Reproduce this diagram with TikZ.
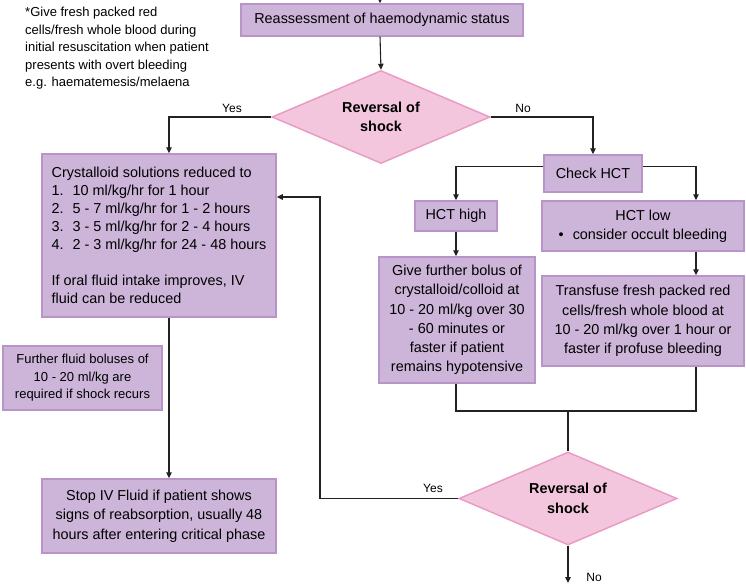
\documentclass[tikz,border=0pt]{standalone}
\usepackage{fontspec}
\setmainfont{Liberation Sans}
\usetikzlibrary{shapes.geometric,arrows.meta,calc}
\definecolor{boxfill}{HTML}{CDB5D9}
\definecolor{boxline}{HTML}{B994C9}
\definecolor{dfill}{HTML}{F4C6DD}
\definecolor{dline}{HTML}{E99CC4}
\definecolor{ln}{HTML}{222222}
\tikzset{
  box/.style={draw=boxline, fill=boxfill, line width=1.5pt, inner sep=0pt,
    font=\fontsize{14.4}{19.3}\selectfont, align=center},
  dec/.style={diamond, draw=dline, fill=dfill, line width=1.5pt, inner sep=0pt,
    aspect=2.34, minimum width=218pt, minimum height=93pt,
    font=\fontsize{14.4}{19.5}\selectfont\bfseries, align=center},
  conn/.style={draw=ln, line width=1.1pt},
  arr/.style={conn, -{Triangle[length=6pt,width=5.5pt]}},
  lab/.style={font=\fontsize{12}{14}\selectfont, inner sep=0pt},
  note/.style={font=\fontsize{13}{17.5}\selectfont, inner sep=0pt, align=left},
}
\begin{document}
\begin{tikzpicture}[x=1pt,y=-1pt]
\useasboundingbox (0,0) rectangle (746,583);

% note
\node[note, anchor=north west] (note) at (25,7) {*Give fresh packed red\\cells/fresh whole blood during\\initial resuscitation when patient\\presents with overt bleeding\\e.g. haematemesis/melaena};

% nodes
\node[box, minimum width=282pt, minimum height=32pt] (top) at (382,20) {Reassessment of haemodynamic status};
\node[dec] (d1) at (381,117) {Reversal of\\shock};
\node[box, minimum width=234pt, minimum height=163pt, align=left, font=\fontsize{14.4}{18}\selectfont] (left) at (159,235.5) {Crystalloid solutions reduced to\\
\makebox[21pt][l]{1.}10 ml/kg/hr for 1 hour\\
\makebox[21pt][l]{2.}5 - 7 ml/kg/hr for 1 - 2 hours\\
\makebox[21pt][l]{3.}3 - 5 ml/kg/hr for 2 - 4 hours\\
\makebox[21pt][l]{4.}2 - 3 ml/kg/hr for 24 - 48 hours\\[18pt]
If oral fluid intake improves, IV\\fluid can be reduced};
\node[box, minimum width=159pt, minimum height=64pt, font=\fontsize{13}{17.5}\selectfont] (further) at (82.5,378) {Further fluid boluses of\\10 - 20 ml/kg are\\required if shock recurs};
\node[box, minimum width=234pt, minimum height=74pt] (stop) at (159,516) {Stop IV Fluid if patient shows\\signs of reabsorption, usually 48\\hours after entering critical phase};
\node[box, minimum width=98pt, minimum height=37pt] (check) at (593,173.5) {Check HCT};
\node[box, minimum width=82pt, minimum height=30pt] (high) at (456,216) {HCT high};
\node[box, minimum width=202pt, minimum height=50pt] (low) at (643,226) {HCT low\\\textbullet\hspace{9pt}consider occult bleeding};
\node[box, minimum width=156pt, minimum height=126pt] (give) at (457,320) {Give further bolus of\\crystalloid/colloid at\\10 - 20 ml/kg over 30\\- 60 minutes or\\faster if patient\\remains hypotensive};
\node[box, minimum width=202pt, minimum height=90pt] (transfuse) at (643,321) {Transfuse fresh packed red\\cells/fresh whole blood at\\10 - 20 ml/kg over 1 hour or\\faster if profuse bleeding};
\node[dec] (d2) at (568,498.5) {Reversal of\\shock};

% helper coordinates
\coordinate (in) at (380,0);
\coordinate (cl) at (169,0);
\coordinate (cr) at (696,0);
\coordinate (m) at (568,411);
\coordinate (lp) at (320,197);
\coordinate (out) at (568,583);

% connectors
\draw[arr] (in) -- (in |- top.north);
\draw[arr] (top.south -| in) -- (d1.north);
\draw[arr] (d1.west) -| (left.north -| cl);
\draw[arr] (d1.east) -| (check.north);
\draw[arr] ([yshift=7pt]check.west) -| (high.north);
\draw[arr] ([yshift=7pt]check.east) -| (low.north -| cr);
\draw[arr] (high.south) -- (give.north -| high.south);
\draw[arr] (low.south -| cr) -- (transfuse.north -| cr);
\draw[conn] (give.south -| high.south) |- (m) -| (transfuse.south -| cr);
\draw[conn] (m) -- (d2.north);
\draw[arr] (d2.west) -| (lp) -- (lp -| left.east);
\draw[arr] (left.south -| cl) -- (stop.north -| cl);
\draw[arr] (d2.south) -- (out);

% labels
\node[lab] (y1) at (232,108) {Yes};
\node[lab] (n1) at (523,108) {No};
\node[lab] (y2) at (433,488) {Yes};
\node[lab] (n2) at (594,577) {No};
\end{tikzpicture}
\end{document}
